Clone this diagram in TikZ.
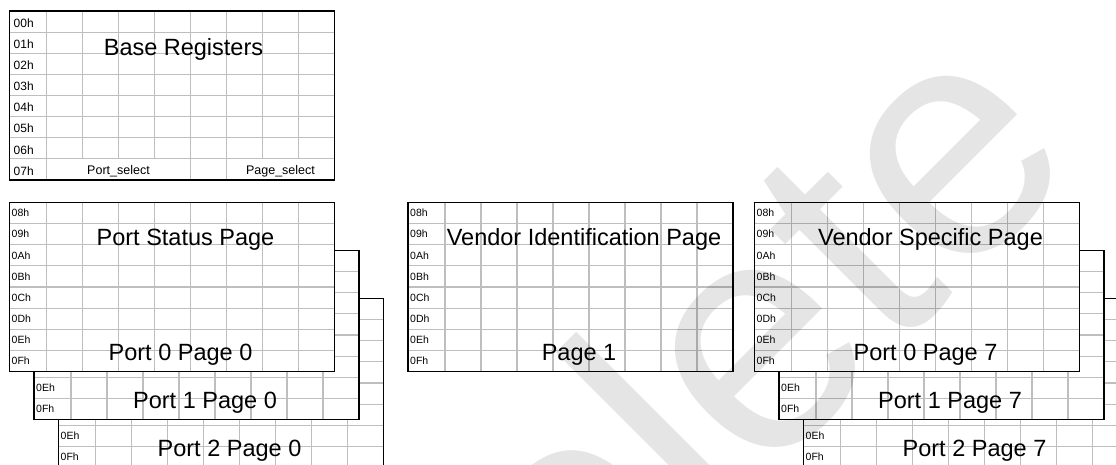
\documentclass[tikz,border=0pt]{standalone}
\usepackage{fontspec}
\setmainfont{Liberation Sans}
\usetikzlibrary{math}
\definecolor{gridgray}{RGB}{190,190,190}

\tikzset{
  gridline/.style={color=gridgray, line width=1.2},
  boxline/.style={draw=black, line width=1.5},
  rowlbl/.style={anchor=west, inner sep=0, font=\fontsize{10.5}{11}\selectfont},
  baselbl/.style={anchor=west, inner sep=0, font=\fontsize{12}{12}\selectfont},
  pagetitle/.style={anchor=base, inner sep=0, font=\fontsize{23.5}{24}\selectfont},
  fieldlbl/.style={anchor=base, inner sep=0, font=\fontsize{12.5}{13}\selectfont},
}

% one page of registers 08h..0Fh, top left corner at the scope origin
\newcommand{\regpage}[3]{% #1 name, #2 upper title, #3 lower title
  \fill[white] (0,0) rectangle (\pw,\ph);
  \foreach \r in {1,...,7} \draw[gridline] (0,\r*\rh) -- (\pw,\r*\rh);
  \foreach \col in {0,...,7} \draw[gridline] (\lw+\col*\cw,0) -- (\lw+\col*\cw,\ph);
  \foreach \lbl [count=\i from 0] in {08h,09h,0Ah,0Bh,0Ch,0Dh,0Eh,0Fh}
    \node[rowlbl] (#1-\i) at (2,\i*\rh+0.5*\rh) {\lbl};
  \node[pagetitle] (#1-top) at (176,43) {#2};
  \node[pagetitle] (#1-bot) at (171,158) {#3};
  \draw[boxline] (0,0) rectangle (\pw,\ph);
}

\begin{document}
\begin{tikzpicture}[x=1pt,y=-1pt]
\tikzmath{
\pw=325;%page width
\ph=169;%page height
\rh=\ph/8;%row height
\lw=37;%label column
\cw=(\pw-\lw)/8;%bit column
\dx=24.5;
\dy=48;
}
\useasboundingbox (0,0) rectangle (1116,464);
\clip (0,0) rectangle (1116,464);
\fill[white] (0,0) rectangle (1116,464);

% base registers
\begin{scope}[shift={(9.5,11)}]
\fill[white] (0,0) rectangle (\pw,\ph);
\foreach \r in {1,...,7} \draw[gridline] (0,\r*\rh) -- (\pw,\r*\rh);
\foreach \col in {0,4,5} \draw[gridline] (\lw+\col*\cw,0) -- (\lw+\col*\cw,\ph);
\foreach \col in {1,2,3,6,7} \draw[gridline] (\lw+\col*\cw,0) -- (\lw+\col*\cw,7*\rh);
\foreach \lbl [count=\i from 0] in {00h,01h,02h,03h,04h,05h,06h,07h}
  \node[baselbl] (base-\i) at (4,\i*\rh+0.5*\rh+1.5) {\lbl};
\node[pagetitle] (base-top) at (174,44) {Base Registers};
\node[fieldlbl] (port-sel) at (\lw+2*\cw,163) {Port\_select};
\node[fieldlbl] (page-sel) at (\lw+6.5*\cw,163) {Page\_select};
\draw[boxline] (0,0) rectangle (\pw,\ph);
\end{scope}

% port status pages
\begin{scope}[shift={(9.5+2*\dx,202.5+2*\dy)}]
\regpage{ps2}{}{Port 2 Page 0}
\end{scope}
\begin{scope}[shift={(9.5+\dx,202.5+\dy)}]
\regpage{ps1}{}{Port 1 Page 0}
\end{scope}
\begin{scope}[shift={(9.5,202.5)}]
\regpage{ps0}{Port Status Page}{Port 0 Page 0}
\end{scope}

% vendor identification page
\begin{scope}[shift={(408,202.5)}]
\regpage{vid}{Vendor Identification Page}{Page 1}
\end{scope}

% vendor specific pages
\begin{scope}[shift={(754.5+2*\dx,202.5+2*\dy)}]
\regpage{vs2}{}{Port 2 Page 7}
\end{scope}
\begin{scope}[shift={(754.5+\dx,202.5+\dy)}]
\regpage{vs1}{}{Port 1 Page 7}
\end{scope}
\begin{scope}[shift={(754.5,202.5)}]
\regpage{vs0}{Vendor Specific Page}{Port 0 Page 7}
\end{scope}

% watermark
\node[rotate=45, inner sep=0, text=black, text opacity=0.1,
  font=\fontsize{330}{330}\selectfont] (stamp) at (535,545) {Obsolete};
\end{tikzpicture}
\end{document}
